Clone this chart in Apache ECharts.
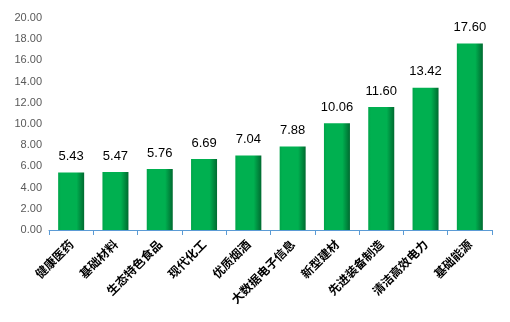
<!DOCTYPE html>
<html><head><meta charset="utf-8">
<script src="https://cdn.jsdelivr.net/npm/echarts@6/dist/echarts.min.js"></script>
<style>html,body{margin:0;padding:0;background:#fff}#c{width:510px;height:322px}</style>
</head><body><div id="c"></div>
<script>
const categories = ['健康医药','基础材料','生态特色食品','现代化工','优质烟酒','大数据电子信息','新型建材','先进装备制造','清洁高效电力','基础能源'];
const values = [5.43, 5.47, 5.76, 6.69, 7.04, 7.88, 10.06, 11.60, 13.42, 17.60];
const yTicks = {min: 0, max: 20, interval: 2};

const chart = echarts.init(document.getElementById('c'), null, {renderer: 'canvas'});
chart.setOption({
  animation: false,
  grid: {left: 49, right: 18, top: 18, bottom: 92},
  xAxis: {
    type: 'category', data: categories,
    axisLine: {lineStyle: {color: '#5B9BD5', width: 1}},
    axisTick: {show: true, length: 5, lineStyle: {color: '#5B9BD5'}},
    axisLabel: {rotate: 45, interval: 0, color: '#000', fontWeight: 'bold', fontSize: 12, fontFamily: 'Noto Sans CJK SC', margin: 12}
  },
  yAxis: {
    type: 'value', min: yTicks.min, max: yTicks.max, interval: yTicks.interval,
    axisLine: {show: false}, axisTick: {show: false},
    splitLine: {show: false},
    axisLabel: {color: '#595959', fontSize: 11, fontFamily: 'Liberation Sans', formatter: v => v.toFixed(2), margin: 7}
  },
  series: [{
    type: 'bar', data: values, barWidth: 26,
    itemStyle: {
      color: new echarts.graphic.LinearGradient(0, 0, 1, 0, [
        {offset: 0, color: '#00a248'},
        {offset: 0.12, color: '#00b050'},
        {offset: 0.7, color: '#00b050'},
        {offset: 1, color: '#00662e'}
      ]),
      borderColor: 'rgba(0,0,0,0)'
    },
    label: {show: true, position: 'top', distance: 9, color: '#000', fontSize: 13, fontFamily: 'Liberation Sans', formatter: p => p.value.toFixed(2)}
  }]
});
</script></body></html>
